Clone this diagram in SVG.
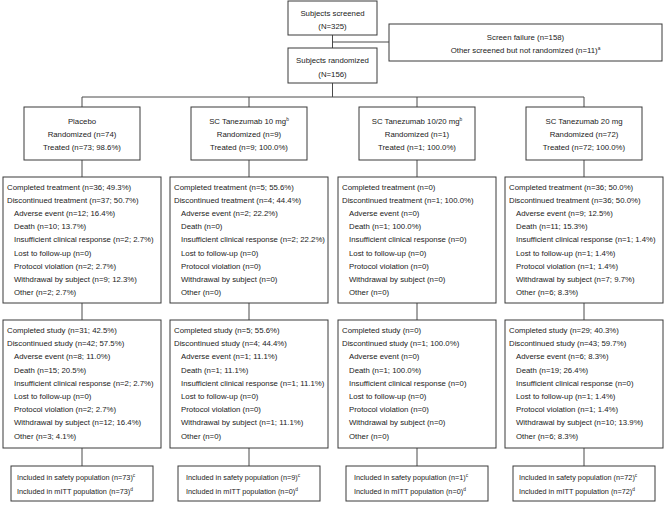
<svg xmlns="http://www.w3.org/2000/svg" width="667" height="505" viewBox="0 0 667 505">
<style>
  .box { fill: #ffffff; stroke: #3a3a3a; stroke-width: 1; }
  .conn line { stroke: #4a4a4a; stroke-width: 1; }
  text { font-family: "Liberation Sans", Arial, sans-serif; font-size: 7.8px; fill: #222222; }
  .c { text-anchor: middle; }
  .sm { font-size: 7.3px; }
  .sup { font-size: 4.8px; }
</style>
<rect width="667" height="505" fill="#ffffff"/>

<g class="conn" id="connectors">
  <line x1="332.5" y1="35" x2="332.5" y2="48"/>
  <line x1="332.5" y1="42" x2="389" y2="42"/>
  <line x1="332.5" y1="83" x2="332.5" y2="97"/>
  <line x1="82" y1="97" x2="584" y2="97"/>
  <line x1="82" y1="97" x2="82" y2="107"/>
  <line x1="249" y1="97" x2="249" y2="107"/>
  <line x1="417" y1="97" x2="417" y2="107"/>
  <line x1="584" y1="97" x2="584" y2="107"/>
  <line x1="82" y1="160" x2="82" y2="177"/>
  <line x1="249" y1="160" x2="249" y2="177"/>
  <line x1="417" y1="160" x2="417" y2="177"/>
  <line x1="584" y1="160" x2="584" y2="177"/>
  <line x1="82" y1="303" x2="82" y2="320"/>
  <line x1="249" y1="303" x2="249" y2="320"/>
  <line x1="417" y1="303" x2="417" y2="320"/>
  <line x1="584" y1="303" x2="584" y2="320"/>
  <line x1="82" y1="448" x2="82" y2="466"/>
  <line x1="249" y1="448" x2="249" y2="466"/>
  <line x1="417" y1="448" x2="417" y2="466"/>
  <line x1="584" y1="448" x2="584" y2="466"/>
</g>

<g id="screened">
  <rect class="box" x="288" y="1" width="89" height="34"/>
  <text class="c" x="332.5" y="15.5">Subjects screened</text>
  <text class="c" x="332.5" y="29">(N=325)</text>
</g>

<g id="screen-failure">
  <rect class="box" x="389" y="24" width="273" height="37"/>
  <text class="c" x="525.5" y="39.5">Screen failure (n=158)</text>
  <text class="c" x="525.5" y="52.5">Other screened but not randomized (n=11)<tspan class="sup" dy="-3">a</tspan></text>
</g>

<g id="randomized">
  <rect class="box" x="288" y="48" width="89" height="35"/>
  <text class="c" x="332.5" y="62.5">Subjects randomized</text>
  <text class="c" x="332.5" y="76.5">(N=156)</text>
</g>

<!-- Column 1: Placebo -->
<g id="arm-placebo">
  <rect class="box" x="24" y="107" width="116" height="53"/>
  <text class="c" x="82" y="124">Placebo</text>
  <text class="c" x="82" y="137">Randomized (n=74)</text>
  <text class="c" x="82" y="150">Treated (n=73; 98.6%)</text>
</g>
<g id="treat-placebo">
  <rect class="box" x="3" y="177" width="158" height="126"/>
  <text x="7" y="190">Completed treatment (n=36; 49.3%)</text>
  <text x="7" y="203.1">Discontinued treatment (n=37; 50.7%)</text>
  <text x="14" y="216.2">Adverse event (n=12; 16.4%)</text>
  <text x="14" y="229.3">Death (n=10; 13.7%)</text>
  <text x="14" y="242.4">Insufficient clinical response (n=2; 2.7%)</text>
  <text x="14" y="255.5">Lost to follow-up (n=0)</text>
  <text x="14" y="268.6">Protocol violation (n=2; 2.7%)</text>
  <text x="14" y="281.7">Withdrawal by subject (n=9; 12.3%)</text>
  <text x="14" y="294.8">Other (n=2; 2.7%)</text>
</g>
<g id="study-placebo">
  <rect class="box" x="3" y="320" width="158" height="128"/>
  <text x="7" y="333">Completed study (n=31; 42.5%)</text>
  <text x="7" y="346.2">Discontinued study (n=42; 57.5%)</text>
  <text x="14" y="359.4">Adverse event (n=8; 11.0%)</text>
  <text x="14" y="372.6">Death (n=15; 20.5%)</text>
  <text x="14" y="385.8">Insufficient clinical response (n=2; 2.7%)</text>
  <text x="14" y="399">Lost to follow-up (n=0)</text>
  <text x="14" y="412.2">Protocol violation (n=2; 2.7%)</text>
  <text x="14" y="425.4">Withdrawal by subject (n=12; 16.4%)</text>
  <text x="14" y="438.6">Other (n=3; 4.1%)</text>
</g>
<g id="pop-placebo">
  <rect class="box" x="11" y="466" width="142" height="35"/>
  <text class="sm" x="17" y="480">Included in safety population (n=73)<tspan class="sup" dy="-3">c</tspan></text>
  <text class="sm" x="17" y="494">Included in mITT population (n=73)<tspan class="sup" dy="-3">d</tspan></text>
</g>

<!-- Column 2: SC Tanezumab 10 mg -->
<g id="arm-10mg">
  <rect class="box" x="191" y="107" width="116" height="53"/>
  <text class="c" x="249" y="124">SC Tanezumab 10 mg<tspan class="sup" dy="-3">b</tspan></text>
  <text class="c" x="249" y="137">Randomized (n=9)</text>
  <text class="c" x="249" y="150">Treated (n=9; 100.0%)</text>
</g>
<g id="treat-10mg">
  <rect class="box" x="170" y="177" width="158" height="126"/>
  <text x="174" y="190">Completed treatment (n=5; 55.6%)</text>
  <text x="174" y="203.1">Discontinued treatment (n=4; 44.4%)</text>
  <text x="181" y="216.2">Adverse event (n=2; 22.2%)</text>
  <text x="181" y="229.3">Death (n=0)</text>
  <text x="181" y="242.4">Insufficient clinical response (n=2; 22.2%)</text>
  <text x="181" y="255.5">Lost to follow-up (n=0)</text>
  <text x="181" y="268.6">Protocol violation (n=0)</text>
  <text x="181" y="281.7">Withdrawal by subject (n=0)</text>
  <text x="181" y="294.8">Other (n=0)</text>
</g>
<g id="study-10mg">
  <rect class="box" x="170" y="320" width="158" height="128"/>
  <text x="174" y="333">Completed study (n=5; 55.6%)</text>
  <text x="174" y="346.2">Discontinued study (n=4; 44.4%)</text>
  <text x="181" y="359.4">Adverse event (n=1; 11.1%)</text>
  <text x="181" y="372.6">Death (n=1; 11.1%)</text>
  <text x="181" y="385.8">Insufficient clinical response (n=1; 11.1%)</text>
  <text x="181" y="399">Lost to follow-up (n=0)</text>
  <text x="181" y="412.2">Protocol violation (n=0)</text>
  <text x="181" y="425.4">Withdrawal by subject (n=1; 11.1%)</text>
  <text x="181" y="438.6">Other (n=0)</text>
</g>
<g id="pop-10mg">
  <rect class="box" x="178" y="466" width="142" height="35"/>
  <text class="sm" x="186" y="480">Included in safety population (n=9)<tspan class="sup" dy="-3">c</tspan></text>
  <text class="sm" x="186" y="494">Included in mITT population (n=0)<tspan class="sup" dy="-3">d</tspan></text>
</g>

<!-- Column 3: SC Tanezumab 10/20 mg -->
<g id="arm-10-20mg">
  <rect class="box" x="359" y="107" width="116" height="53"/>
  <text class="c" x="417" y="124">SC Tanezumab 10/20 mg<tspan class="sup" dy="-3">b</tspan></text>
  <text class="c" x="417" y="137">Randomized (n=1)</text>
  <text class="c" x="417" y="150">Treated (n=1; 100.0%)</text>
</g>
<g id="treat-10-20mg">
  <rect class="box" x="338" y="177" width="158" height="126"/>
  <text x="342" y="190">Completed treatment (n=0)</text>
  <text x="342" y="203.1">Discontinued treatment (n=1; 100.0%)</text>
  <text x="349" y="216.2">Adverse event (n=0)</text>
  <text x="349" y="229.3">Death (n=1; 100.0%)</text>
  <text x="349" y="242.4">Insufficient clinical response (n=0)</text>
  <text x="349" y="255.5">Lost to follow-up (n=0)</text>
  <text x="349" y="268.6">Protocol violation (n=0)</text>
  <text x="349" y="281.7">Withdrawal by subject (n=0)</text>
  <text x="349" y="294.8">Other (n=0)</text>
</g>
<g id="study-10-20mg">
  <rect class="box" x="338" y="320" width="158" height="128"/>
  <text x="342" y="333">Completed study (n=0)</text>
  <text x="342" y="346.2">Discontinued study (n=1; 100.0%)</text>
  <text x="349" y="359.4">Adverse event (n=0)</text>
  <text x="349" y="372.6">Death (n=1; 100.0%)</text>
  <text x="349" y="385.8">Insufficient clinical response (n=0)</text>
  <text x="349" y="399">Lost to follow-up (n=0)</text>
  <text x="349" y="412.2">Protocol violation (n=0)</text>
  <text x="349" y="425.4">Withdrawal by subject (n=0)</text>
  <text x="349" y="438.6">Other (n=0)</text>
</g>
<g id="pop-10-20mg">
  <rect class="box" x="346" y="466" width="142" height="35"/>
  <text class="sm" x="354" y="480">Included in safety population (n=1)<tspan class="sup" dy="-3">c</tspan></text>
  <text class="sm" x="354" y="494">Included in mITT population (n=0)<tspan class="sup" dy="-3">d</tspan></text>
</g>

<!-- Column 4: SC Tanezumab 20 mg -->
<g id="arm-20mg">
  <rect class="box" x="526" y="107" width="116" height="53"/>
  <text class="c" x="584" y="124">SC Tanezumab 20 mg</text>
  <text class="c" x="584" y="137">Randomized (n=72)</text>
  <text class="c" x="584" y="150">Treated (n=72; 100.0%)</text>
</g>
<g id="treat-20mg">
  <rect class="box" x="505" y="177" width="158" height="126"/>
  <text x="509" y="190">Completed treatment (n=36; 50.0%)</text>
  <text x="509" y="203.1">Discontinued treatment (n=36; 50.0%)</text>
  <text x="516" y="216.2">Adverse event (n=9; 12.5%)</text>
  <text x="516" y="229.3">Death (n=11; 15.3%)</text>
  <text x="516" y="242.4">Insufficient clinical response (n=1; 1.4%)</text>
  <text x="516" y="255.5">Lost to follow-up (n=1; 1.4%)</text>
  <text x="516" y="268.6">Protocol violation (n=1; 1.4%)</text>
  <text x="516" y="281.7">Withdrawal by subject (n=7; 9.7%)</text>
  <text x="516" y="294.8">Other (n=6; 8.3%)</text>
</g>
<g id="study-20mg">
  <rect class="box" x="505" y="320" width="158" height="128"/>
  <text x="509" y="333">Completed study (n=29; 40.3%)</text>
  <text x="509" y="346.2">Discontinued study (n=43; 59.7%)</text>
  <text x="516" y="359.4">Adverse event (n=6; 8.3%)</text>
  <text x="516" y="372.6">Death (n=19; 26.4%)</text>
  <text x="516" y="385.8">Insufficient clinical response (n=0)</text>
  <text x="516" y="399">Lost to follow-up (n=1; 1.4%)</text>
  <text x="516" y="412.2">Protocol violation (n=1; 1.4%)</text>
  <text x="516" y="425.4">Withdrawal by subject (n=10; 13.9%)</text>
  <text x="516" y="438.6">Other (n=6; 8.3%)</text>
</g>
<g id="pop-20mg">
  <rect class="box" x="513" y="466" width="142" height="35"/>
  <text class="sm" x="519" y="480">Included in safety population (n=72)<tspan class="sup" dy="-3">c</tspan></text>
  <text class="sm" x="519" y="494">Included in mITT population (n=72)<tspan class="sup" dy="-3">d</tspan></text>
</g>
</svg>
